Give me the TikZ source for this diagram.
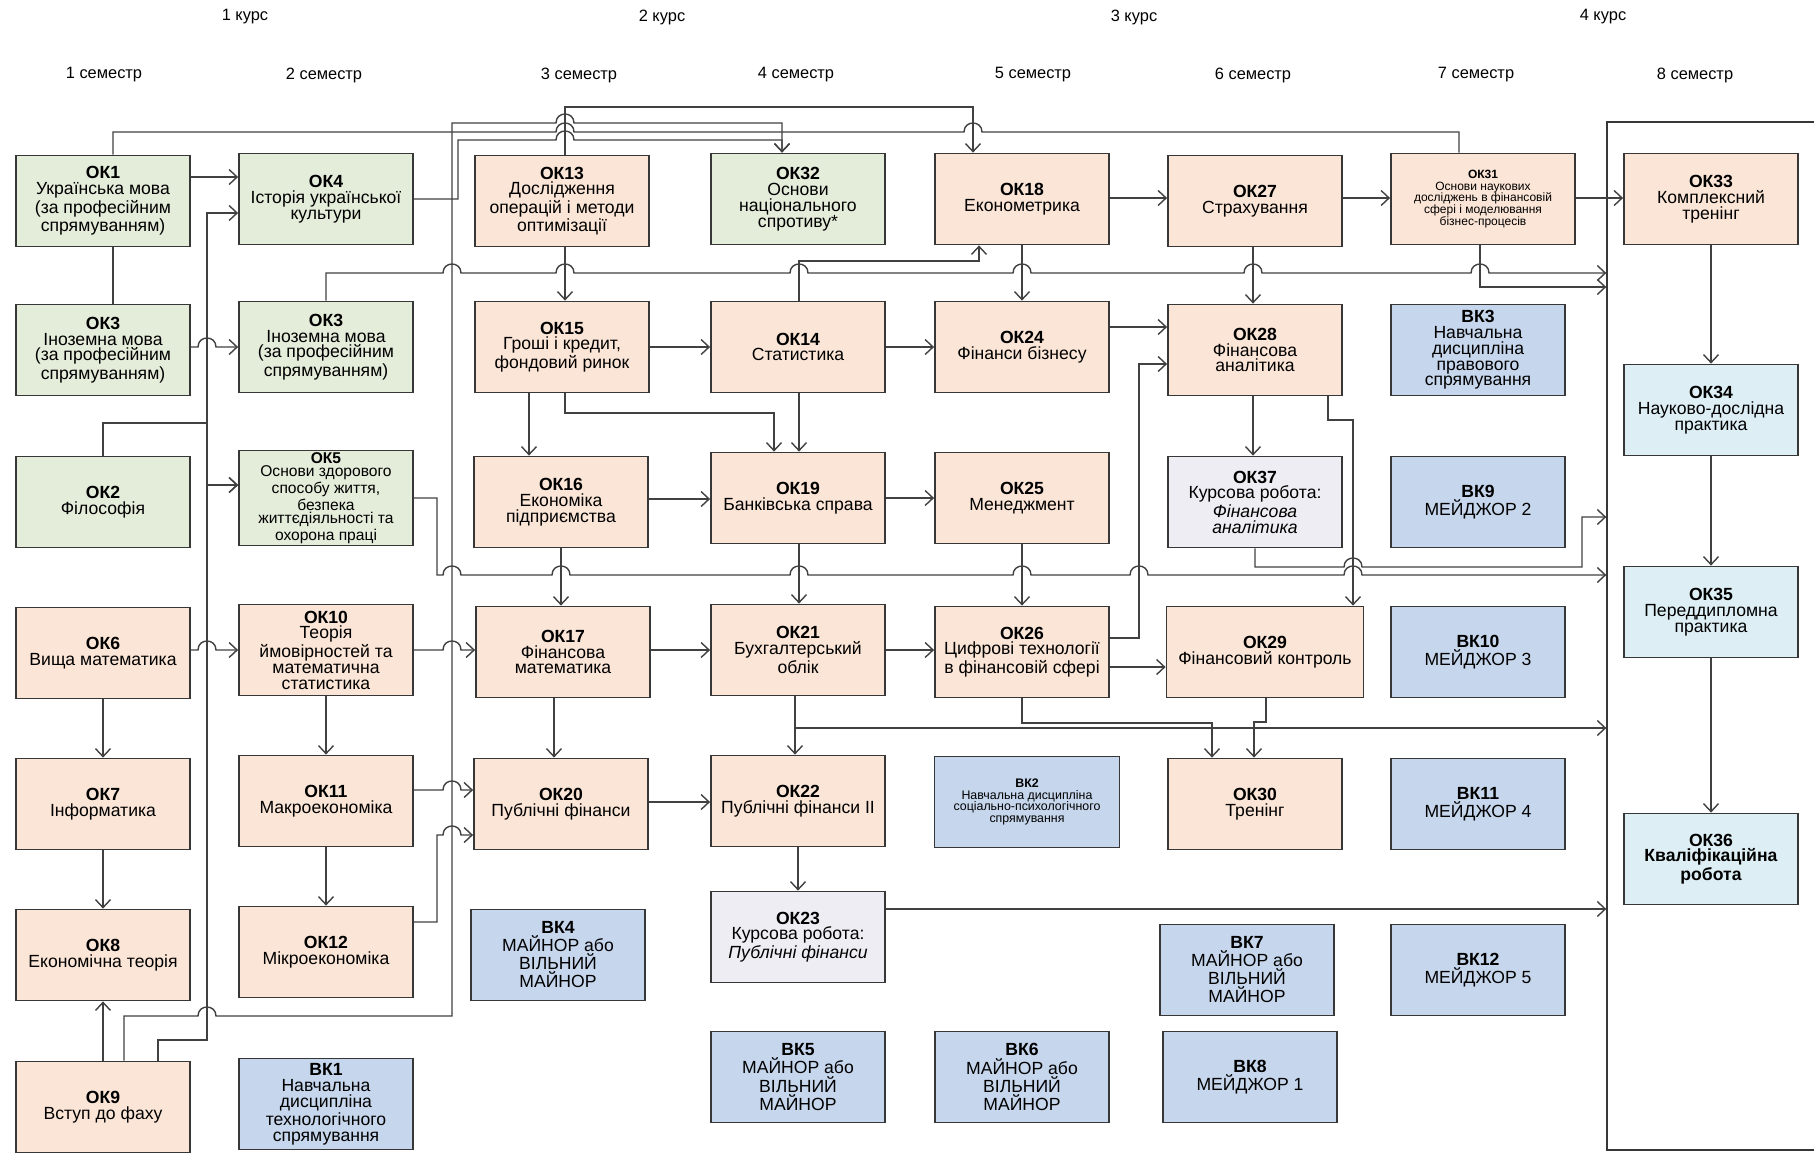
\documentclass[tikz,border=0pt]{standalone}
\usepackage{fontspec}
\setmainfont{Liberation Sans}
\usetikzlibrary{arrows.meta}

\definecolor{okgreen}{RGB}{228,236,218}
\definecolor{okpeach}{RGB}{251,229,214}
\definecolor{vkblue}{RGB}{198,214,236}
\definecolor{cwlilac}{RGB}{238,237,243}
\definecolor{prcyan}{RGB}{221,238,245}
\definecolor{edgegray}{RGB}{55,55,55}
\definecolor{wiregray}{RGB}{65,65,65}

\tikzset{
  course/.style={draw=edgegray, line width=0.9pt, minimum width=87pt, minimum height=45.5pt,
    inner sep=1pt, align=center, font=\fontsize{8.8}{7.9}\selectfont},
  gen/.style={course, fill=okgreen},
  prof/.style={course, fill=okpeach},
  elect/.style={course, fill=vkblue},
  paper/.style={course, fill=cwlilac},
  pract/.style={course, fill=prcyan},
  wire/.style={draw=wiregray, line width=0.7pt},
  head/.style={font=\fontsize{8.2}{10}\selectfont, inner sep=1pt},
  >={Straight Barb[length=4pt,width=7.5pt]}
}
\newcommand{\linehop}[2]{-- ({#1-9},#2) .. controls ({#1-9},{#2-12}) and ({#1+9},{#2-12}) .. ({#1+9},#2)}

\begin{document}
\begin{tikzpicture}[x=0.5pt,y=-0.5pt]
\path[use as bounding box, fill=white] (0,0) rectangle (1814,1153);

\node[head] (kurs1) at (245,17) {1 курс};
\node[head] (kurs2) at (662,17) {2 курс};
\node[head] (kurs3) at (1134,17) {3 курс};
\node[head] (kurs4) at (1603,17) {4 курс};
\node[head] (sem1) at (104,75) {1 семестр};
\node[head] (sem2) at (324,75) {2 семестр};
\node[head] (sem3) at (579,75) {3 семестр};
\node[head] (sem4) at (796,75) {4 семестр};
\node[head] (sem5) at (1033,75) {5 семестр};
\node[head] (sem6) at (1253,75) {6 семестр};
\node[head] (sem7) at (1476,75) {7 семестр};
\node[head] (sem8h) at (1695,75) {8 семестр};

\node[draw=edgegray, line width=0.7pt, minimum width=111.5pt, minimum height=514pt, inner sep=0pt] (sem8) at (1718.5,636) {};

\node[gen] (ok1) at (103,201) {\textbf{ОК1}\\Українська мова\\(за професійним\\спрямуванням)};
\node[gen] (ok3a) at (103,350) {\textbf{ОК3}\\Іноземна мова\\(за професійним\\спрямуванням)};
\node[gen] (ok2) at (103,502) {\textbf{ОК2}\\Філософія};
\node[prof] (ok6) at (103,653) {\textbf{ОК6}\\Вища математика};
\node[prof] (ok7) at (103,804) {\textbf{ОК7}\\Інформатика};
\node[prof] (ok8) at (103,955) {\textbf{ОК8}\\Економічна теорія};
\node[prof] (ok9) at (103,1107) {\textbf{ОК9}\\Вступ до фаху};

\node[gen] (ok4) at (326,199) {\textbf{ОК4}\\Історія української\\культури};
\node[gen] (ok3b) at (326,347) {\textbf{ОК3}\\Іноземна мова\\(за професійним\\спрямуванням)};
\node[gen, font=\fontsize{7.8}{6.8}\selectfont] (ok5) at (326,498) {\textbf{ОК5}\\Основи здорового\\способу життя,\\безпека\\життєдіяльності та\\охорона праці};
\node[prof] (ok10) at (326,650) {\textbf{ОК10}\\Теорія\\ймовірностей та\\математична\\статистика};
\node[prof] (ok11) at (326,801) {\textbf{ОК11}\\Макроекономіка};
\node[prof] (ok12) at (326,952) {\textbf{ОК12}\\Мікроекономіка};
\node[elect] (vk1) at (326,1104) {\textbf{ВК1}\\Навчальна\\дисципліна\\технологічного\\спрямування};

\node[prof] (ok13) at (562,201) {\textbf{ОК13}\\Дослідження\\операцій і методи\\оптимізації};
\node[prof] (ok15) at (562,347) {\textbf{ОК15}\\Гроші і кредит,\\фондовий ринок};
\node[prof] (ok16) at (561,502) {\textbf{ОК16}\\Економіка\\підприємства};
\node[prof] (ok17) at (563,652) {\textbf{ОК17}\\Фінансова\\математика};
\node[prof] (ok20) at (561,804) {\textbf{ОК20}\\Публічні фінанси};
\node[elect] (vk4) at (558,955) {\textbf{ВК4}\\МАЙНОР або\\ВІЛЬНИЙ\\МАЙНОР};

\node[gen] (ok32) at (798,199) {\textbf{ОК32}\\Основи\\національного\\спротиву*};
\node[prof] (ok14) at (798,347) {\textbf{ОК14}\\Статистика};
\node[prof] (ok19) at (798,498) {\textbf{ОК19}\\Банківська справа};
\node[prof] (ok21) at (798,650) {\textbf{ОК21}\\Бухгалтерський\\облік};
\node[prof] (ok22) at (798,801) {\textbf{ОК22}\\Публічні фінанси II};
\node[paper] (ok23) at (798,937) {\textbf{ОК23}\\Курсова робота:\\\textit{Публічні фінанси}};
\node[elect] (vk5) at (798,1077) {\textbf{ВК5}\\МАЙНОР або\\ВІЛЬНИЙ\\МАЙНОР};

\node[prof] (ok18) at (1022,199) {\textbf{ОК18}\\Економетрика};
\node[prof] (ok24) at (1022,347) {\textbf{ОК24}\\Фінанси бізнесу};
\node[prof] (ok25) at (1022,498) {\textbf{ОК25}\\Менеджмент};
\node[prof] (ok26) at (1022,652) {\textbf{ОК26}\\Цифрові технології\\в фінансовій сфері};
\node[elect, minimum width=92.5pt, font=\fontsize{6.2}{5.8}\selectfont] (vk2) at (1027,802) {\textbf{ВК2}\\Навчальна дисципліна\\соціально-психологічного\\спрямування};
\node[elect] (vk6) at (1022,1077) {\textbf{ВК6}\\МАЙНОР або\\ВІЛЬНИЙ\\МАЙНОР};

\node[prof] (ok27) at (1255,201) {\textbf{ОК27}\\Страхування};
\node[prof] (ok28) at (1255,350) {\textbf{ОК28}\\Фінансова\\аналітика};
\node[paper] (ok37) at (1255,502) {\textbf{ОК37}\\Курсова робота:\\\textit{Фінансова}\\\textit{аналітика}};
\node[prof, minimum width=98.5pt] (ok29) at (1265,652) {\textbf{ОК29}\\Фінансовий контроль};
\node[prof] (ok30) at (1255,804) {\textbf{ОК30}\\Тренінг};
\node[elect] (vk7) at (1247,970) {\textbf{ВК7}\\МАЙНОР або\\ВІЛЬНИЙ\\МАЙНОР};
\node[elect] (vk8) at (1250,1077) {\textbf{ВК8}\\МЕЙДЖОР 1};

\node[prof, minimum width=92pt, font=\fontsize{6}{5.8}\selectfont] (ok31) at (1483,199) {\textbf{ОК31}\\Основи наукових\\досліджень в фінансовій\\сфері і моделювання\\бізнес-процесів};
\node[elect] (vk3) at (1478,350) {\textbf{ВК3}\\Навчальна\\дисципліна\\правового\\спрямування};
\node[elect] (vk9) at (1478,502) {\textbf{ВК9}\\МЕЙДЖОР 2};
\node[elect] (vk10) at (1478,652) {\textbf{ВК10}\\МЕЙДЖОР 3};
\node[elect] (vk11) at (1478,804) {\textbf{ВК11}\\МЕЙДЖОР 4};
\node[elect] (vk12) at (1478,970) {\textbf{ВК12}\\МЕЙДЖОР 5};

\node[prof] (ok33) at (1711,199) {\textbf{ОК33}\\Комплексний\\тренінг};
\node[pract] (ok34) at (1711,410) {\textbf{ОК34}\\Науково-дослідна\\практика};
\node[pract] (ok35) at (1711,612) {\textbf{ОК35}\\Переддипломна\\практика};
\node[pract] (ok36) at (1711,859) {\textbf{ОК36}\\\textbf{Кваліфікаційна}\\\textbf{робота}};

\draw[wire] (ok1.south -| 113,0) -- (ok3a.north -| 113,0);
\draw[wire] (ok1.north -| 113,0) |- (556,132) \linehop{565}{132} \linehop{973}{132} -| (ok31.north -| 1459,0);
\draw[wire,->] (ok1.east |- 0,177) -- (ok4.west |- 0,177);
\draw[wire,->] (ok3a.east |- 0,347) \linehop{207}{347} -- (ok3b.west |- 0,347);
\draw[wire,->] (ok2.north) |- (207,423) |- (ok4.west |- 0,213);
\draw[wire,->] (ok2.north) |- (207,423) |- (ok5.west |- 0,485);
\draw[wire,->] (ok9.north -| 158,0) |- (207,1040) |- (ok5.west |- 0,485);
\draw[wire,->] (ok9) -- (ok8);
\draw[wire,->] (ok9.north -| 124,0) |- (198,1016) \linehop{207}{1016} -| (452,123) \linehop{565}{123} -| (ok32.north -| 782,0);
\draw[wire,->] (ok4.east) -| (458,140) \linehop{565}{140} -| (ok32.north -| 782,0);
\draw[wire,->] (ok13.north -| 565,0) |- (973,107) -- (ok18.north -| 973,0);
\draw[wire,->] (ok3b.north) |- (443,273) \linehop{452}{273} \linehop{565}{273} \linehop{799}{273} \linehop{1022}{273} \linehop{1253}{273} \linehop{1480}{273} -- (sem8.west |- 0,273);
\draw[wire,->] (ok14.north -| 799,0) |- (979,261) -- (ok18.south -| 979,0);
\draw[wire,->] (ok13.south -| 565,0) -- (ok15.north -| 565,0);
\draw[wire,->] (ok15) -- (ok14);
\draw[wire,->] (ok14) -- (ok24);
\draw[wire,->] (ok15.south -| 529,0) -- (ok16.north -| 529,0);
\draw[wire,->] (ok15.south -| 565,0) |- (774,413) -- (ok19.north -| 774,0);
\draw[wire,->] (ok14.south -| 799,0) -- (ok19.north -| 799,0);
\draw[wire,->] (ok16.east |- 0,499) -- (ok19.west |- 0,499);
\draw[wire,->] (ok19) -- (ok25);
\draw[wire,->] (ok16.south -| 561,0) -- (ok17.north -| 561,0);
\draw[wire,->] (ok19.south -| 799,0) -- (ok21.north -| 799,0);
\draw[wire,->] (ok17.east |- 0,650) -- (ok21.west |- 0,650);
\draw[wire,->] (ok21.east |- 0,650) -- (ok26.west |- 0,650);
\draw[wire,->] (ok17.south -| 554,0) -- (ok20.north -| 554,0);
\draw[wire,->] (ok21.south -| 795,0) -- (ok22.north -| 795,0);
\draw[wire,->] (ok21.south -| 795,0) |- (sem8.west |- 0,728);
\draw[wire,->] (ok20.east |- 0,802) -- (ok22.west |- 0,802);
\draw[wire,->] (ok22) -- (ok23);
\draw[wire,->] (ok23.east |- 0,909) -- (sem8.west |- 0,909);
\draw[wire,->] (ok18) -- (ok24);
\draw[wire,->] (ok18.east |- 0,198) -- (ok27.west |- 0,198);
\draw[wire,->] (ok27.east |- 0,198) -- (ok31.west |- 0,198);
\draw[wire,->] (ok31.east |- 0,198) -- (ok33.west |- 0,198);
\draw[wire,->] (ok24.east |- 0,327) -- (ok28.west |- 0,327);
\draw[wire,->] (ok26.east |- 0,638) -| (1139,364) -- (ok28.west |- 0,364);
\draw[wire,->] (ok27.south -| 1253,0) -- (ok28.north -| 1253,0);
\draw[wire,->] (ok28.south -| 1253,0) -- (ok37.north -| 1253,0);
\draw[wire,->] (ok28.south -| 1328,0) |- (1353,420) -- (ok29.north -| 1353,0);
\draw[wire,->] (ok31.south -| 1480,0) |- (sem8.west |- 0,287);
\draw[wire,->] (ok5.east |- 0,498) -| (437,575) \linehop{452}{575} \linehop{561}{575} \linehop{799}{575} \linehop{1022}{575} \linehop{1139}{575} \linehop{1353}{575} -- (sem8.west |- 0,575);
\draw[wire,->] (ok37.south) |- (1344,567) \linehop{1353}{567} -| (1582,517) -- (sem8.west |- 0,517);
\draw[wire,->] (ok25) -- (ok26);
\draw[wire,->] (ok26.east |- 0,667) -- (ok29.west |- 0,667);
\draw[wire,->] (ok26.south) |- (1212,723) -- (ok30.north -| 1212,0);
\draw[wire,->] (ok29.south -| 1266,0) |- (1254,722) -- (ok30.north -| 1254,0);
\draw[wire,->] (ok6.east |- 0,650) \linehop{207}{650} -- (ok10.west |- 0,650);
\draw[wire,->] (ok10.east |- 0,650) \linehop{452}{650} -- (ok17.west |- 0,650);
\draw[wire,->] (ok6) -- (ok7);
\draw[wire,->] (ok7) -- (ok8);
\draw[wire,->] (ok10) -- (ok11);
\draw[wire,->] (ok11) -- (ok12);
\draw[wire,->] (ok11.east |- 0,790) \linehop{452}{790} -- (ok20.west |- 0,790);
\draw[wire,->] (ok12.east |- 0,922) -| (437,835) \linehop{452}{835} -- (ok20.west |- 0,835);
\draw[wire,->] (ok33) -- (ok34);
\draw[wire,->] (ok34) -- (ok35);
\draw[wire,->] (ok35) -- (ok36);
\end{tikzpicture}
\end{document}
